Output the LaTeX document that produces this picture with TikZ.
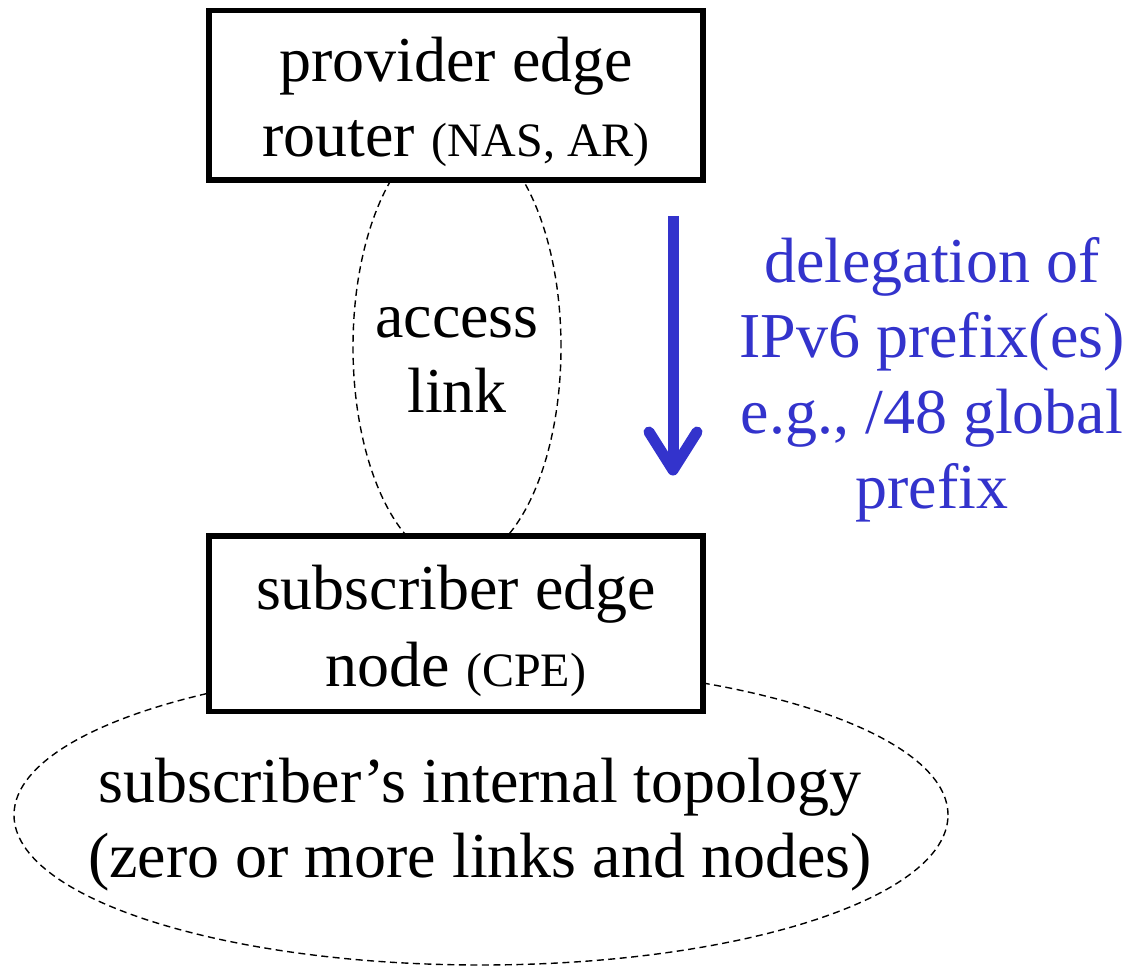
\documentclass[tikz,border=0pt]{standalone}
\usepackage{fontspec}
\setmainfont{Liberation Serif}
\usetikzlibrary{shapes.geometric}
\definecolor{delegblue}{RGB}{51,51,204}
\newcommand{\smallfnt}{\fontsize{48}{56}\selectfont}
\tikzset{
  boxnode/.style={draw, line width=5.5pt, fill=white, inner sep=0pt, minimum width=494pt},
  dashell/.style={draw, ellipse, dash pattern=on 7pt off 4.5pt, line width=1.4pt, inner sep=0pt},
  bigtxt/.style={font=\fontsize{64}{75}\selectfont, anchor=base, inner sep=0pt},
  bluetxt/.style={bigtxt, text=delegblue},
  shaftline/.style={draw=delegblue, line width=11pt},
  headline/.style={draw=delegblue, line width=11pt, line cap=round, line join=round},
}
\begin{document}
\begin{tikzpicture}[x=1pt,y=-1pt]
\useasboundingbox (0,0) rectangle (1129,968);
% dashed ellipses
\node[dashell, minimum width=934pt, minimum height=300pt] (topo) at (481,815) {};
\node[dashell, minimum width=208pt, minimum height=432pt] (acc) at (457,347) {};
% boxes
\node[boxnode, minimum height=169.5pt] (pe) at (456,95.5) {};
\node[boxnode, minimum height=175.5pt] (ce) at (456,623.5) {};
% box texts
\node[bigtxt] (pe1) at (456,82) {provider edge};
\node[bigtxt] (pe2) at (456,157) {router {\smallfnt(NAS, AR)}};
\node[bigtxt] (ce1) at (456,609) {subscriber edge};
\node[bigtxt] (ce2) at (456,686) {node {\smallfnt(CPE)}};
% access link
\node[bigtxt] (acc1) at (457,337) {access};
\node[bigtxt] (acc2) at (457,412) {link};
% topology text
\node[bigtxt] (topo1) at (480,802) {subscriber’s internal topology};
\node[bigtxt] (topo2) at (480,877) {(zero or more links and nodes)};
% delegation arrow
\coordinate (arrtop) at (673,216);
\coordinate (arrtip) at (673,470);
\coordinate (armL) at (649,432);
\coordinate (armR) at (697,432);
\draw[shaftline] (arrtop) -- (arrtip);
\draw[headline] (armL) -- (arrtip) -- (armR);
% blue text
\node[bluetxt] (d1) at (932,282) {delegation of};
\node[bluetxt] (d2) at (932,357) {IPv6 prefix(es)};
\node[bluetxt] (d3) at (932,433) {e.g., /48 global};
\node[bluetxt] (d4) at (932,508) {prefix};
\end{tikzpicture}
\end{document}
